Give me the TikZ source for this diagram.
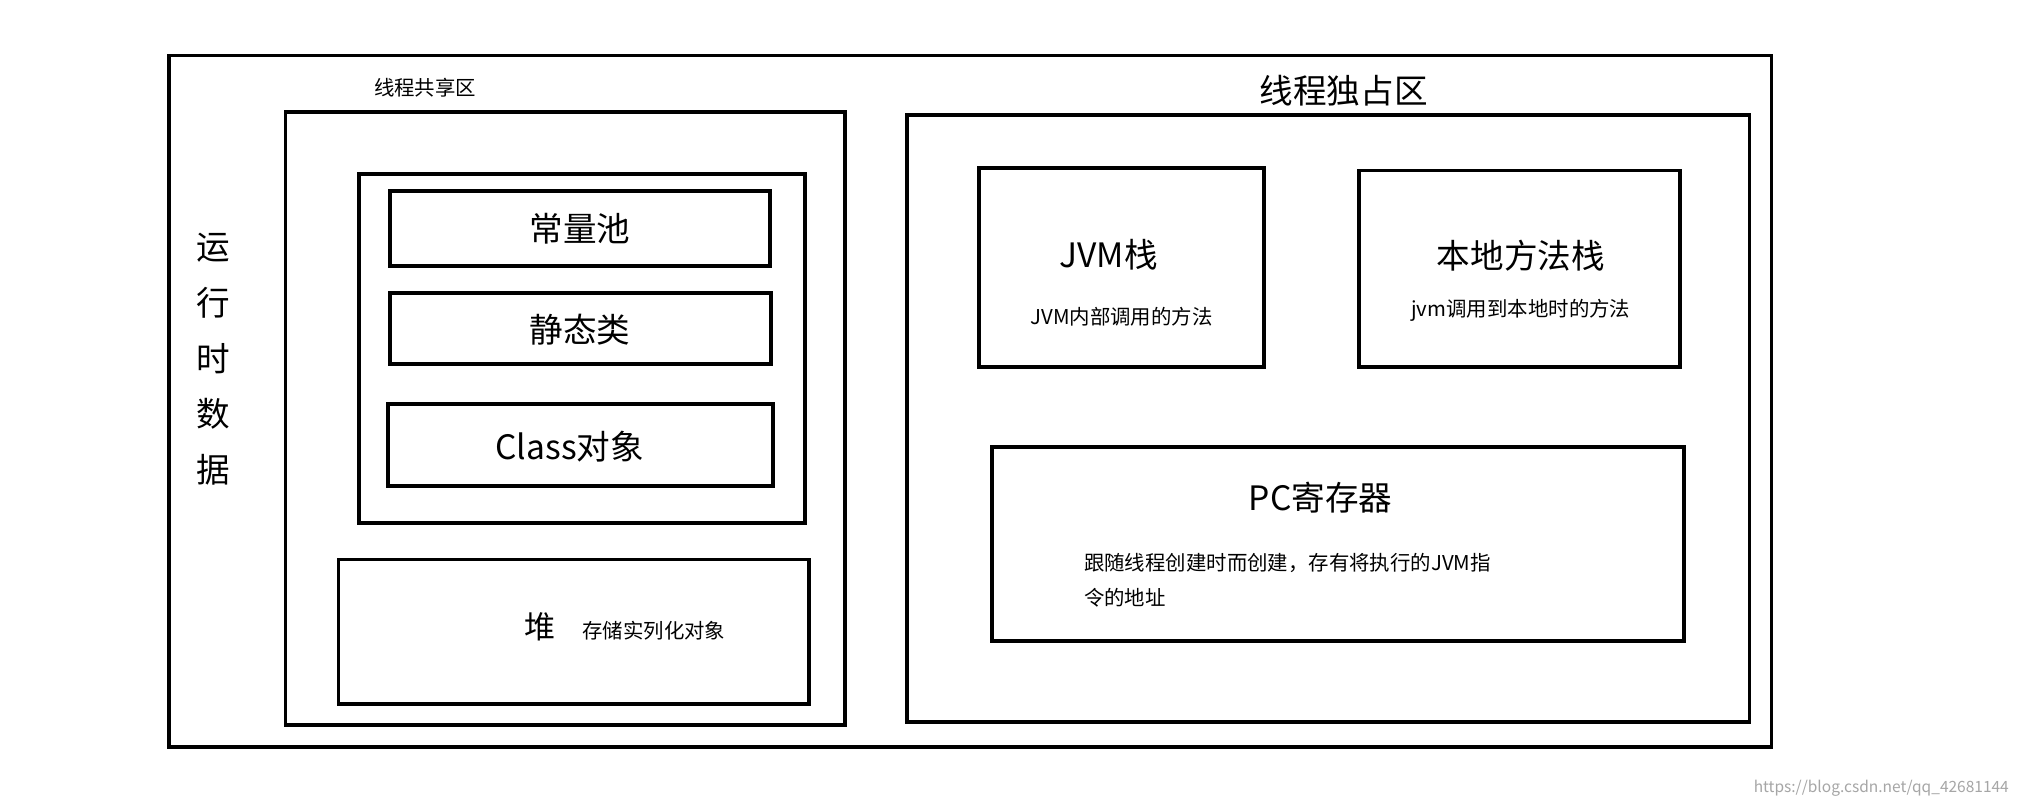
\documentclass[tikz,border=0pt]{standalone}
\usepackage{fontspec}
\setmainfont{Noto Sans CJK SC}
\begin{document}
\begin{tikzpicture}[x=0.5pt,y=-0.5pt,
  box/.style={draw=black,line width=1.5pt},
  big/.style={font=\fontsize{13}{15}\selectfont},
  small/.style={font=\fontsize{7.9}{12}\selectfont}]
\useasboundingbox[fill=white] (0,0) rectangle (1568,625);
\draw[box] (131,43) rectangle (1371,578);
\node[small] (lshared) at (329,68) {线程共享区};
\draw[box] (221,87) rectangle (654,561);
\draw[box] (278,135) rectangle (623,405);
\draw[box] (302,148) rectangle (596,206);
\node[big] (cp) at (449,177) {常量池};
\draw[box] (302,227) rectangle (597,282);
\node[big] (sc) at (449,255) {静态类};
\draw[box] (300,313) rectangle (598,376);
\node[big] (co) at (441,346) {Class对象};
\draw[box] (262,433) rectangle (626,545);
\node[font=\fontsize{12}{14}\selectfont] (heap) at (418,485) {堆};
\node[small] (heapt) at (506,488) {存储实列化对象};
\node[big,align=center,font=\fontsize{13}{21.5}\selectfont] (rt) at (165,278) {运\\行\\时\\数\\据};
\node[big] (lexcl) at (1040,70) {线程独占区};
\draw[box] (702,89) rectangle (1354,559);
\draw[box] (758,130) rectangle (978,284);
\node[big] (jvm) at (858,197) {JVM栈};
\node[small] (jvmt) at (868,245) {JVM内部调用的方法};
\draw[box] (1052,132) rectangle (1300,284);
\node[big] (nat) at (1177,198) {本地方法栈};
\node[small] (natt) at (1177,240) {jvm调用到本地时的方法};
\draw[box] (768,346) rectangle (1303,496);
\node[big] (pc) at (1022,385) {PC寄存器};
\node[small,anchor=west] (pct1) at (832,436) {跟随线程创建时而创建，存有将执行的JVM指};
\node[small,anchor=west] (pct2) at (832,463) {令的地址};
\node[font=\fontsize{6}{7}\selectfont,text=gray!70] (wm) at (1456,610) {https://blog.csdn.net/qq\_42681144};
\end{tikzpicture}
\end{document}
